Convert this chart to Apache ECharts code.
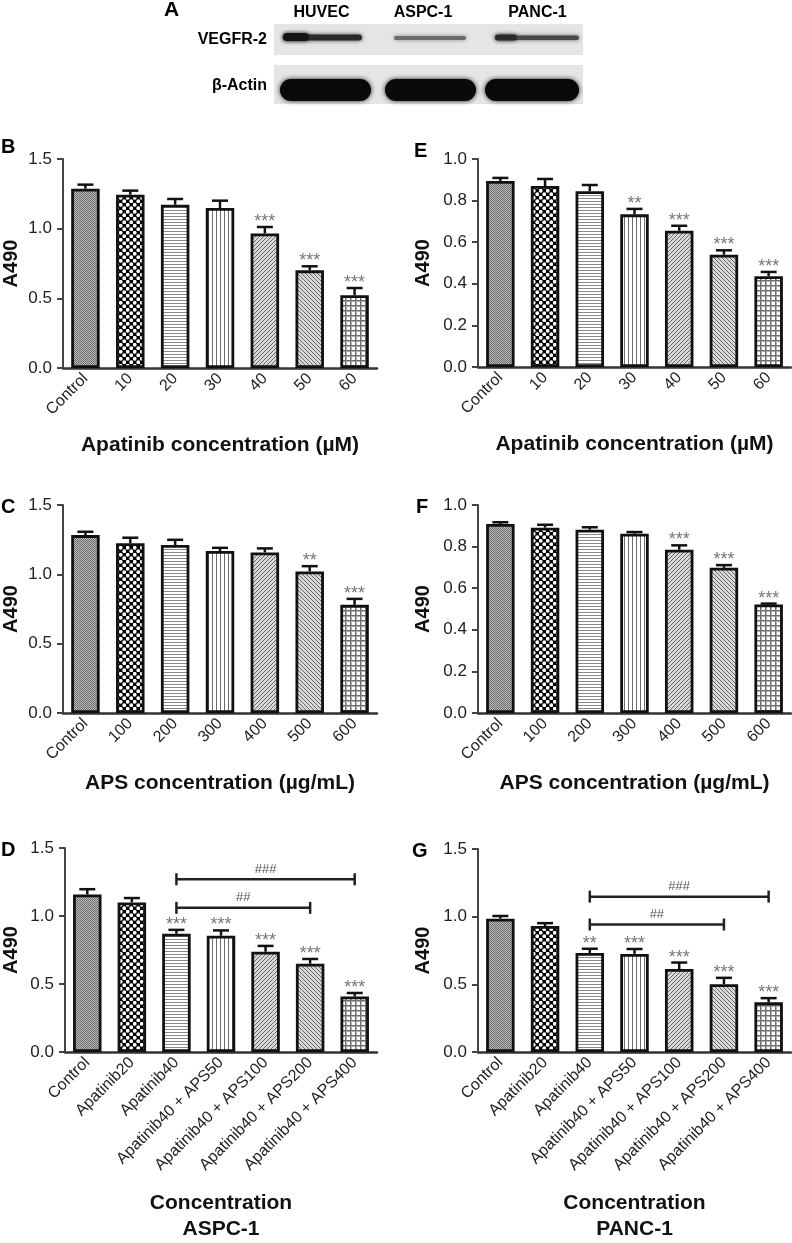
<!DOCTYPE html>
<html><head><meta charset="utf-8">
<script src="https://cdn.jsdelivr.net/npm/echarts@6/dist/echarts.min.js"></script>
<style>html,body{margin:0;padding:0;background:#fff}#c{width:792px;height:1243px}</style>
</head><body><div id="c"></div>
<script>
// ---------- DATA ----------
const catDose  = ['Control','10','20','30','40','50','60'];
const catAPS   = ['Control','100','200','300','400','500','600'];
const catCombo = ['Control','Apatinib20','Apatinib40','Apatinib40 + APS50','Apatinib40 + APS100','Apatinib40 + APS200','Apatinib40 + APS400'];

// B: ASPC-1, apatinib
const valB  = [1.287, 1.244, 1.172, 1.148, 0.966, 0.701, 0.522];
const seB   = [0.029, 0.029, 0.041, 0.053, 0.046, 0.029, 0.052];
const starB = ['', '', '', '', '***', '***', '***'];
// E: PANC-1, apatinib
const valE  = [0.894, 0.870, 0.845, 0.734, 0.655, 0.540, 0.436];
const seE   = [0.015, 0.034, 0.030, 0.026, 0.024, 0.021, 0.021];
const starE = ['', '', '', '**', '***', '***', '***'];
// C: ASPC-1, APS
const valC  = [1.283, 1.225, 1.211, 1.168, 1.158, 1.021, 0.780];
const seC   = [0.024, 0.039, 0.038, 0.023, 0.029, 0.038, 0.043];
const starC = ['', '', '', '', '', '**', '***'];
// F: PANC-1, APS
const valF  = [0.909, 0.891, 0.881, 0.862, 0.785, 0.698, 0.522];
const seF   = [0.008, 0.014, 0.012, 0.008, 0.021, 0.013, 0.004];
const starF = ['', '', '', '', '***', '***', '***'];
// D: ASPC-1, combination
const valD  = [1.158, 1.100, 0.870, 0.855, 0.737, 0.649, 0.408];
const seD   = [0.039, 0.032, 0.028, 0.039, 0.043, 0.035, 0.026];
const starD = ['', '', '***', '***', '***', '***', '***'];
const sigFromD = [2, 2], sigToD = [5, 6], sigLevelD = [1.060, 1.270], sigTextD = ['##', '###'];
// G: PANC-1, combination
const valG  = [0.985, 0.931, 0.732, 0.725, 0.613, 0.501, 0.367];
const seG   = [0.020, 0.021, 0.031, 0.036, 0.048, 0.047, 0.031];
const starG = ['', '', '**', '***', '***', '***', '***'];
const sigFromG = [2, 2], sigToG = [5, 6], sigLevelG = [0.942, 1.148], sigTextG = ['##', '###'];

const yTicksAB = [0, 1.5, 0.5];   // min, max, interval
const yTicksE  = [0, 1.0, 0.2];

// ---------- STYLE ----------
const FF = "'Liberation Sans', Arial, sans-serif";
function mk(w, h, draw) {
  const c = document.createElement('canvas'); c.width = w; c.height = h;
  const g = c.getContext('2d'); draw(g);
  return { image: c, repeat: 'repeat' };
}
const patterns = [
  mk(2, 2, g => { g.fillStyle = '#b8b8b8'; g.fillRect(0,0,2,2); g.fillStyle = '#707070'; g.fillRect(0,0,1,1); g.fillRect(1,1,1,1); }),
  mk(7, 7, g => { g.fillStyle = '#000'; g.fillRect(0,0,7,7); g.fillStyle = '#fff';
    g.beginPath(); g.arc(1.75,1.75,1.9,0,7); g.fill(); g.beginPath(); g.arc(5.25,5.25,1.9,0,7); g.fill(); }),
  mk(1, 3, g => { g.fillStyle = '#fff'; g.fillRect(0,0,1,3); g.fillStyle = '#8a8a8a'; g.fillRect(0,0,1,1); }),
  mk(4, 1, g => { g.fillStyle = '#fff'; g.fillRect(0,0,4,1); g.fillStyle = '#6e6e6e'; g.fillRect(0,0,1,1); }),
  mk(4, 4, g => { g.fillStyle = '#d8d8d8'; g.fillRect(0,0,4,4); g.fillStyle = '#6a6a6a';
    g.fillRect(3,0,1,1); g.fillRect(2,1,1,1); g.fillRect(1,2,1,1); g.fillRect(0,3,1,1); }),
  mk(4, 4, g => { g.fillStyle = '#d8d8d8'; g.fillRect(0,0,4,4); g.fillStyle = '#6a6a6a';
    g.fillRect(0,0,1,1); g.fillRect(1,1,1,1); g.fillRect(2,2,1,1); g.fillRect(3,3,1,1); }),
  mk(5, 5, g => { g.fillStyle = '#fff'; g.fillRect(0,0,5,5); g.fillStyle = '#b0b0b0'; g.fillRect(0,1,5,1); g.fillRect(1,0,1,5);
    g.fillStyle = '#707070'; g.fillRect(0,0,5,1); g.fillRect(0,0,1,5); })
];

const grids = [
  { left: 63,  top: 159, width: 314, height: 209 }, // B
  { left: 478, top: 159, width: 313, height: 208 }, // E
  { left: 63,  top: 505, width: 314, height: 208 }, // C
  { left: 478, top: 505, width: 313, height: 208 }, // F
  { left: 63,  top: 848, width: 314, height: 209 }, // D
  { left: 478, top: 849, width: 313, height: 208 }  // G
];

function xAx(idx, cats, name, gap) {
  return {
    type: 'category', gridIndex: idx, data: cats,
    axisLine: { lineStyle: { color: '#333', width: 2.5 } },
    axisTick: { alignWithLabel: true, length: 6, lineStyle: { color: '#333', width: 2.5 } },
    axisLabel: { rotate: 45, fontSize: 16, color: '#222', fontFamily: FF, margin: 8, interval: 0 },
    name: name, nameLocation: 'middle', nameGap: gap,
    nameTextStyle: { fontSize: 21, fontWeight: 'bold', color: '#111', fontFamily: FF, lineHeight: 26 }
  };
}
function yAx(idx, t, gap) {
  return {
    type: 'value', gridIndex: idx, min: t[0], max: t[1], interval: t[2],
    axisLine: { show: true, lineStyle: { color: '#444', width: 2 } },
    axisTick: { show: true, length: 6, lineStyle: { color: '#444', width: 2 } },
    axisLabel: { formatter: v => v.toFixed(1), fontSize: 17, color: '#222', fontFamily: FF, margin: 11 },
    splitLine: { show: false },
    name: 'A490', nameLocation: 'middle', nameGap: gap,
    nameTextStyle: { fontSize: 20, fontWeight: 'bold', color: '#111', fontFamily: FF }
  };
}
function barS(idx, vals) {
  return {
    type: 'bar', xAxisIndex: idx, yAxisIndex: idx, barWidth: 28.5, silent: true,
    itemStyle: { borderColor: '#111', borderWidth: 2.8 },
    data: vals.map((v, i) => ({ value: v, itemStyle: { color: patterns[i] } }))
  };
}
function errS(idx, vals, se, stars) {
  return {
    type: 'custom', xAxisIndex: idx, yAxisIndex: idx, z: 5, silent: true,
    data: vals.map((v, i) => [i, v, v + se[i]]),
    renderItem: (params, api) => {
      const i = api.value(0);
      const p0 = api.coord([i, api.value(1)]);
      const p1 = api.coord([i, api.value(2)]);
      const ch = [
        { type: 'line', shape: { x1: p0[0], y1: p0[1], x2: p1[0], y2: p1[1] }, style: { stroke: '#111', lineWidth: 2.5 } },
        { type: 'line', shape: { x1: p1[0] - 8, y1: p1[1], x2: p1[0] + 8, y2: p1[1] }, style: { stroke: '#111', lineWidth: 2.5 } }
      ];
      const s = stars[params.dataIndex];
      if (s) ch.push({ type: 'text', x: p1[0], y: p1[1] - 5,
        style: { text: s, fill: '#777', fontSize: 18, fontFamily: FF, align: 'center', verticalAlign: 'middle' } });
      return { type: 'group', children: ch };
    }
  };
}
function sigS(idx, from, to, lvl, txt) {
  return {
    type: 'custom', xAxisIndex: idx, yAxisIndex: idx, z: 6, silent: true,
    data: from.map((f, i) => [f, to[i], lvl[i]]),
    renderItem: (params, api) => {
      const a = api.coord([api.value(0), api.value(2)]);
      const b = api.coord([api.value(1), api.value(2)]);
      const st = { stroke: '#222', lineWidth: 2.5 };
      return { type: 'group', children: [
        { type: 'line', shape: { x1: a[0], y1: a[1], x2: b[0], y2: b[1] }, style: st },
        { type: 'line', shape: { x1: a[0], y1: a[1] - 6, x2: a[0], y2: a[1] + 6 }, style: st },
        { type: 'line', shape: { x1: b[0], y1: b[1] - 6, x2: b[0], y2: b[1] + 6 }, style: st },
        { type: 'text', x: (a[0] + b[0]) / 2, y: a[1] - 10,
          style: { text: txt[params.dataIndex], fill: '#555', fontSize: 13, fontFamily: FF, align: 'center', verticalAlign: 'middle' } }
      ]};
    }
  };
}

function letter(t, x, y) {
  return { type: 'text', left: x, top: y, style: { text: t, fontSize: 20, fontWeight: 'bold', fill: '#000', fontFamily: FF } };
}
const blot = [
  { type: 'rect', shape: { x: 274, y: 24, width: 309, height: 31 }, style: { fill: '#e5e5e5' } },
  { type: 'rect', shape: { x: 274, y: 65, width: 309, height: 39 }, style: { fill: '#e5e5e5' } },
  // VEGFR-2 bands
  { type: 'rect', shape: { x: 283, y: 34.5, width: 79, height: 6, r: 3 }, style: { fill: '#2a2a2a', shadowBlur: 4, shadowColor: '#444' } },
  { type: 'rect', shape: { x: 283, y: 33, width: 26, height: 8, r: 4 }, style: { fill: '#151515', shadowBlur: 4, shadowColor: '#333' } },
  { type: 'rect', shape: { x: 394, y: 36, width: 72, height: 4, r: 2 }, style: { fill: '#6a6a6a', shadowBlur: 4, shadowColor: '#888' } },
  { type: 'rect', shape: { x: 495, y: 35.5, width: 84, height: 4.5, r: 2 }, style: { fill: '#4a4a4a', shadowBlur: 4, shadowColor: '#666' } },
  { type: 'rect', shape: { x: 495, y: 34.5, width: 22, height: 6, r: 3 }, style: { fill: '#2a2a2a', shadowBlur: 4, shadowColor: '#444' } },
  // beta-actin bands
  { type: 'rect', shape: { x: 280, y: 79, width: 91, height: 22, r: 11 }, style: { fill: '#0a0a0a', shadowBlur: 5, shadowColor: '#222' } },
  { type: 'rect', shape: { x: 385, y: 79, width: 91, height: 22, r: 11 }, style: { fill: '#0a0a0a', shadowBlur: 5, shadowColor: '#222' } },
  { type: 'rect', shape: { x: 485, y: 79, width: 94, height: 22, r: 11 }, style: { fill: '#0a0a0a', shadowBlur: 5, shadowColor: '#222' } },
  { type: 'text', x: 171.5, y: 10, style: { text: 'A', fontSize: 21, fontWeight: 'bold', fill: '#000', fontFamily: FF, align: 'center', verticalAlign: 'middle' } },
  { type: 'text', x: 321.5, y: 13, style: { text: 'HUVEC', fontSize: 16, fontWeight: 'bold', fill: '#000', fontFamily: FF, align: 'center', verticalAlign: 'middle' } },
  { type: 'text', x: 423, y: 13, style: { text: 'ASPC-1', fontSize: 16, fontWeight: 'bold', fill: '#000', fontFamily: FF, align: 'center', verticalAlign: 'middle' } },
  { type: 'text', x: 537.5, y: 13, style: { text: 'PANC-1', fontSize: 16, fontWeight: 'bold', fill: '#000', fontFamily: FF, align: 'center', verticalAlign: 'middle' } },
  { type: 'text', x: 267, y: 40, style: { text: 'VEGFR-2', fontSize: 16, fontWeight: 'bold', fill: '#000', fontFamily: FF, align: 'right', verticalAlign: 'middle' } },
  { type: 'text', x: 267, y: 85.5, style: { text: 'β-Actin', fontSize: 16, fontWeight: 'bold', fill: '#000', fontFamily: FF, align: 'right', verticalAlign: 'middle' } }
];

const chart = echarts.init(document.getElementById('c'), null, { renderer: 'canvas' });
chart.setOption({
  animation: false,
  backgroundColor: '#fff',
  grid: grids,
  xAxis: [
    xAx(0, catDose, 'Apatinib concentration (µM)', 64),
    xAx(1, catDose, 'Apatinib concentration (µM)', 64),
    xAx(2, catAPS, 'APS concentration (µg/mL)', 57),
    xAx(3, catAPS, 'APS concentration (µg/mL)', 57),
    xAx(4, catCombo, 'Concentration\nASPC-1', 138),
    xAx(5, catCombo, 'Concentration\nPANC-1', 138)
  ],
  yAxis: [
    yAx(0, yTicksAB, 42), yAx(1, yTicksE, 45), yAx(2, yTicksAB, 42),
    yAx(3, yTicksE, 45), yAx(4, yTicksAB, 44), yAx(5, yTicksAB, 45)
  ],
  series: [
    barS(0, valB), errS(0, valB, seB, starB),
    barS(1, valE), errS(1, valE, seE, starE),
    barS(2, valC), errS(2, valC, seC, starC),
    barS(3, valF), errS(3, valF, seF, starF),
    barS(4, valD), errS(4, valD, seD, starD), sigS(4, sigFromD, sigToD, sigLevelD, sigTextD),
    barS(5, valG), errS(5, valG, seG, starG), sigS(5, sigFromG, sigToG, sigLevelG, sigTextG)
  ],
  graphic: blot.concat([
    letter('B', 1, 137), letter('E', 414, 141),
    letter('C', 1, 497), letter('F', 416, 497),
    letter('D', 1, 840), letter('G', 412, 841)
  ])
});
</script></body></html>
